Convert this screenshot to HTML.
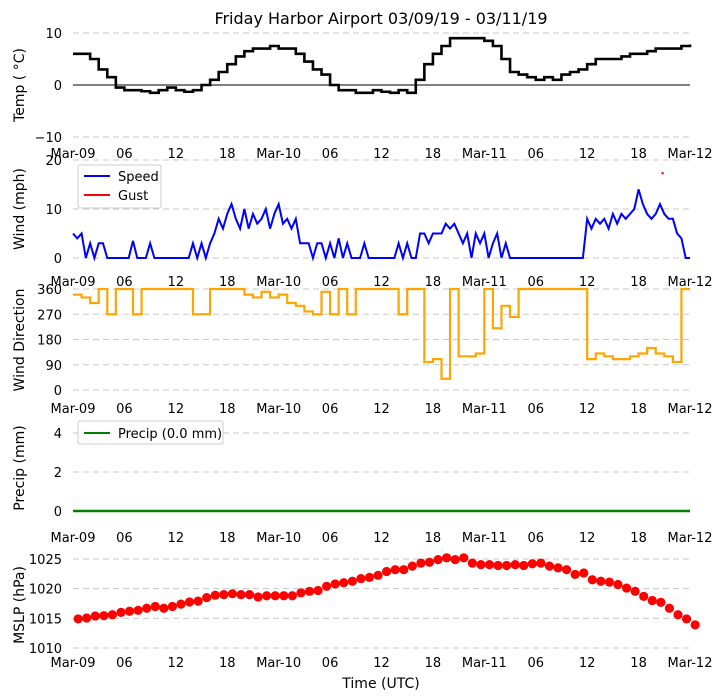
<!DOCTYPE html>
<html><head><meta charset="utf-8"><style>
body{margin:0;background:#fff;}
svg{display:block;font-family:"DejaVu Sans","Liberation Sans",sans-serif;}
</style></head><body>
<svg id="chart" width="722" height="700" viewBox="0 0 722 700" xmlns="http://www.w3.org/2000/svg">
<text x="381" y="24" font-size="16" text-anchor="middle">Friday Harbor Airport 03/09/19 - 03/11/19</text>
<text x="381" y="688" font-size="14" text-anchor="middle">Time (UTC)</text>
</svg>
<script>
const xTickLabels=["Mar-09","06","12","18","Mar-10","06","12","18","Mar-11","06","12","18","Mar-12"];
const tempValues=[6,6,5,3,1.5,-0.5,-1,-1,-1.2,-1.5,-1,-0.5,-1,-1.3,-1,0,1,2.5,4,5.5,6.5,7,7,7.5,7,7,6,4.5,3,2,0,-1,-1,-1.5,-1.5,-1,-1.3,-1.5,-1,-1.5,1,4,6,7.5,9,9,9,9,8.5,7.5,5,2.5,2,1.5,1,1.5,1,2,2.5,3,4,5,5,5,5.5,6,6,6.5,7,7,7,7.5,7.8];
const speedValues=[5,4,5,0,3,0,3,3,0,0, 0,0,0,0, 3.5,0, 0,0, 3,0, 0,0,0,0,0,0,0,0, 3,0, 3,0, 3,5,
8,6, 9,11, 8,6, 10,6, 9,7, 8,10, 6,9, 11,7, 8,6, 8,3, 3,3, 0,3, 3,0, 3,0, 4,0, 3,0, 0,0, 3,0, 0,0, 0,0, 0,0, 3,0, 3,0, 0,5, 5,3, 5,5, 5,7, 6,7, 5,3, 5,0, 5,3, 5,0, 3,5, 0,3, 0,0,
0,0,0,0,0,0,0,0,0,0,0,0,0,0,0,0,
8,6, 8,7, 8,6, 9,7, 9,8, 9,10, 14,11, 9,8, 9,11, 9,8, 8,5, 4,0, 0];
const gustHours=[68.8];
const gustValues=[17.3];
const dirValues=[340,330,310,360,270,360,360,270,360,360,360,360,360,360,270,270,360,360,360,360,340,330,350,330,340,310,300,280,270,350,270,360,270,360,360,360,360,360,270,360,360,100,110,40,360,120,120,130,360,220,300,260,360,360,360,360,360,360,360,360,110,130,120,110,110,120,130,150,130,120,100,360,360];
const precipValues=new Array(73).fill(0);
const mslpValues=[1014.9,1015.06,1015.4,1015.45,1015.6,1016.0,1016.2,1016.35,1016.7,1017.0,1016.7,1017.0,1017.4,1017.75,1017.9,1018.5,1018.9,1019.0,1019.15,1019.0,1019.0,1018.6,1018.8,1018.8,1018.8,1018.8,1019.3,1019.55,1019.7,1020.4,1020.8,1021.0,1021.25,1021.7,1021.9,1022.25,1022.9,1023.2,1023.2,1023.8,1024.3,1024.45,1024.9,1025.2,1024.9,1025.2,1024.3,1024.05,1024.05,1023.9,1023.9,1024.05,1023.9,1024.2,1024.3,1023.8,1023.5,1023.2,1022.4,1022.65,1021.5,1021.25,1021.1,1020.7,1020.1,1019.55,1018.7,1018.0,1017.7,1016.7,1015.6,1014.9,1013.9];
const tempTicks=[-10,0,10];
const speedTicks=[0,10,20];
const dirTicks=[0,90,180,270,360];
const precipTicks=[0,2,4];
const mslpTicks=[1010,1015,1020,1025];

const NS="http://www.w3.org/2000/svg";
const svg=document.getElementById('chart');
const X0=73,X1=690;
function xs(h){return X0+(X1-X0)*h/72;}
function mk(tag,attrs,parent){const e=document.createElementNS(NS,tag);for(const k in attrs)e.setAttribute(k,attrs[k]);(parent||svg).appendChild(e);return e;}
function scaleY(v0,y0,v1,y1){return v=>y0+(v-v0)*(y1-y0)/(v1-v0);}

function panel(name,ys,ticks,label,labelY,xLabY,dashAll){
  const g=mk('g',{});
  
  
  ticks.forEach(t=>{
    const y=ys(t);
    if(dashAll||t!==0){
      const l=mk('line',{x1:X0,x2:X1,y1:y,y2:y,stroke:'#c8c8c8','stroke-width':1,'stroke-dasharray':'6,4'},g);
      
      
    }
    const tx=mk('text',{x:62,y:y+5,'font-size':13,'text-anchor':'end'},g);
    tx.textContent=(t<0?'\u2212'+(-t):t);
    
    
  });
  xTickLabels.forEach((s,i)=>{
    const tx=mk('text',{x:xs(i*6),y:xLabY+5,'font-size':13,'text-anchor':'middle'},g);
    tx.textContent=s;
    
    
  });
  const yl=mk('text',{x:0,y:0,'font-size':14,'text-anchor':'middle',transform:`translate(24,${labelY}) rotate(-90)`},g);
  yl.textContent=label;
  
  
  return g;
}
function stepPath(vals,ys,dt){dt=dt||1;let d='';vals.forEach((v,i)=>{const x=xs(i*dt),y=ys(v);if(i===0)d='M'+x+' '+y;else d+=' H'+x+' V'+y;});return d;}
function linePath(vals,ys,dt){dt=dt||1;return vals.map((v,i)=>(i?'L':'M')+xs(i*dt)+' '+ys(v)).join(' ');}

// Temp
const yT=scaleY(-10,137,10,33);
const gT=panel('temp',yT,tempTicks,'Temp ( \u00B0C)',85,153,false);
const zl=mk('line',{x1:X0,x2:X1,y1:yT(0),y2:yT(0),stroke:'#000','stroke-width':1},gT);


const tp=mk('path',{d:stepPath(tempValues,yT),fill:'none',stroke:'#000','stroke-width':2.6},gT);



// Wind speed
const yS=scaleY(0,258,20,160);
const gS=panel('wind',yS,speedTicks,'Wind (mph)',209,281,true);
const sp=mk('path',{d:linePath(speedValues,yS,0.5),fill:'none',stroke:'#0000ff','stroke-width':2},gS);


gustHours.forEach((h,i)=>{
  const c=mk('circle',{cx:xs(h),cy:yS(gustValues[i]),r:1.2,fill:'#ff0000'},gS);
  
  
});
const lg=mk('g',{},gS);


mk('rect',{x:78,y:165,width:83,height:43,fill:'#fff',stroke:'#ccc','stroke-width':1,rx:2},lg);
mk('line',{x1:84,x2:110,y1:176,y2:176,stroke:'#0000ff','stroke-width':2},lg);
mk('line',{x1:84,x2:110,y1:195,y2:195,stroke:'#ff0000','stroke-width':2},lg);
const l1=mk('text',{x:118,y:181,'font-size':13},lg);l1.textContent='Speed';


const l2=mk('text',{x:118,y:200,'font-size':13},lg);l2.textContent='Gust';



// Direction
const yD=scaleY(0,390,360,289);
const gD=panel('direction',yD,dirTicks,'Wind Direction',340,408,true);
const dp=mk('path',{d:stepPath(dirValues,yD),fill:'none',stroke:'#ffa500','stroke-width':2.2},gD);



// Precip
const yP=scaleY(0,511,4,433);
const gP=panel('precip',yP,precipTicks,'Precip (mm)',468,537,true);
const pp=mk('path',{d:linePath(precipValues,yP),fill:'none',stroke:'#008000','stroke-width':2.5},gP);


const lp=mk('g',{},gP);


mk('rect',{x:78,y:421,width:145,height:23,fill:'#fff',stroke:'#ccc','stroke-width':1,rx:2},lp);
mk('line',{x1:84,x2:110,y1:433,y2:433,stroke:'#008000','stroke-width':2},lp);
const l3=mk('text',{x:118,y:438,'font-size':13},lp);l3.textContent='Precip (0.0 mm)';



// MSLP
const yM=scaleY(1010,648,1025,559);
const gM=panel('mslp',yM,mslpTicks,'MSLP (hPa)',605,662,true);
mslpValues.forEach((v,i)=>{
  const c=mk('circle',{cx:xs(i+0.6),cy:yM(v),r:4.6,fill:'#ff0000'},gM);
  
  
});
</script>
</body></html>
